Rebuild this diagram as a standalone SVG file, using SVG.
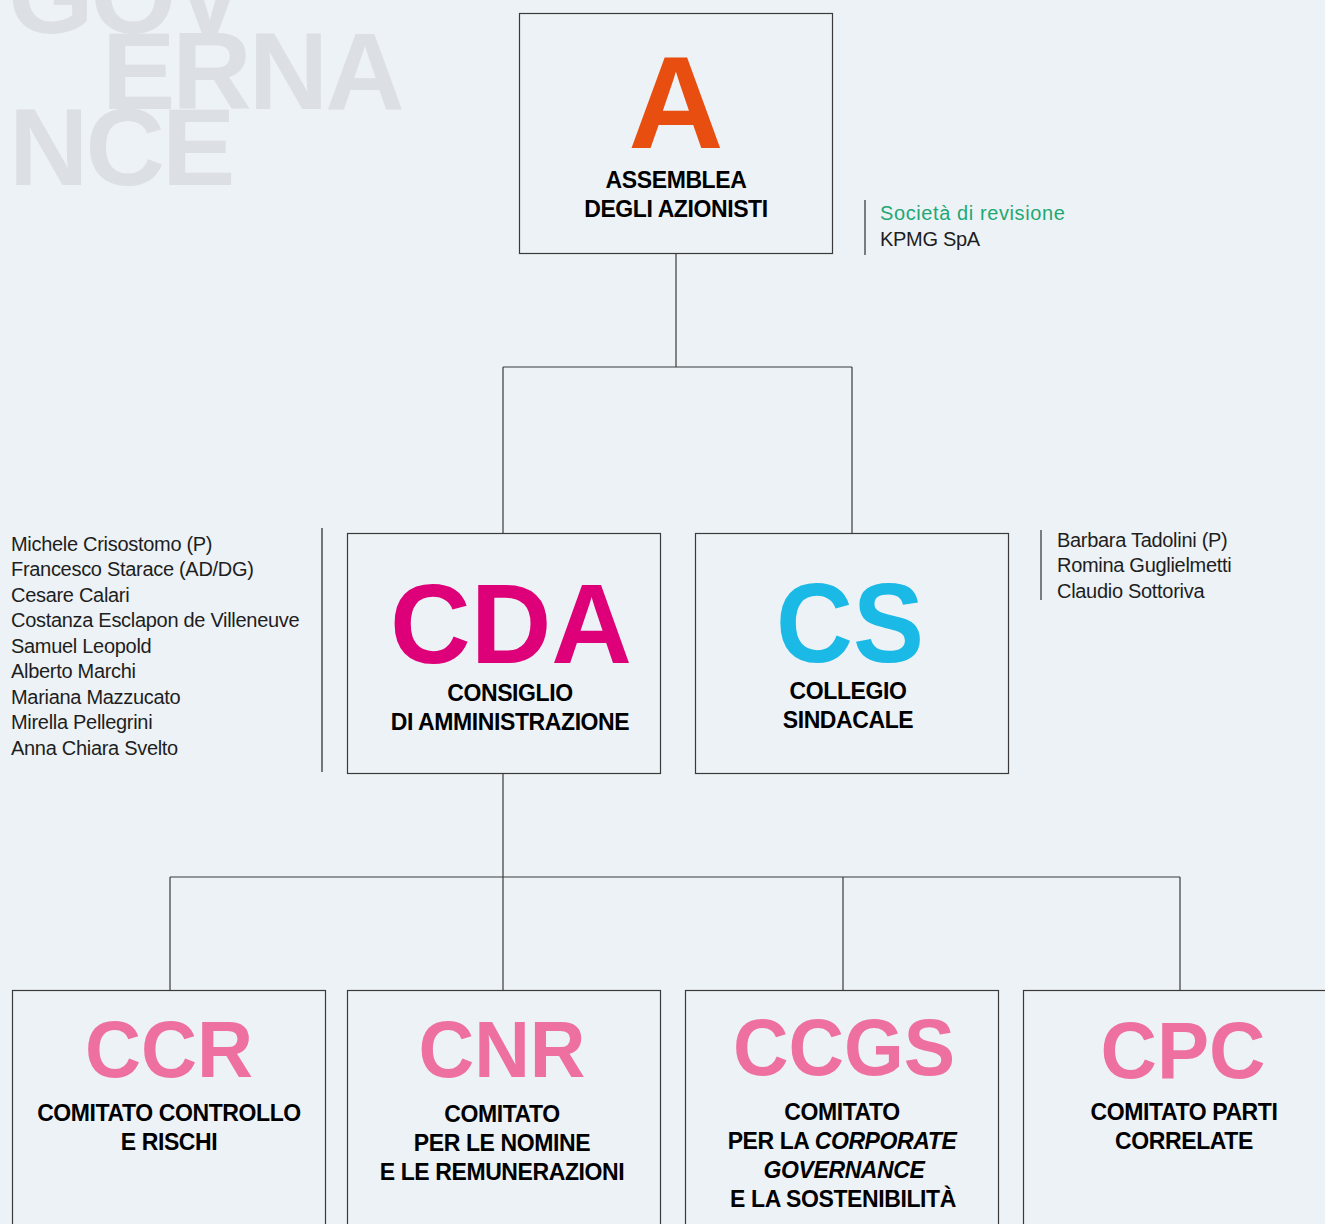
<svg xmlns="http://www.w3.org/2000/svg" width="1325" height="1224" viewBox="0 0 1325 1224">
<style>
.wm{font-family:"Liberation Sans",Arial,sans-serif;font-weight:700;font-size:110px;fill:#dcdfe4;letter-spacing:-3px}
.box{fill:#edf2f6;stroke:#3a3a3a;stroke-width:1.2}
.big{font-family:"Liberation Sans",Arial,sans-serif;font-weight:700;text-anchor:middle}
.lbl{font-family:"Liberation Sans",Arial,sans-serif;font-weight:700;font-size:23px;fill:#000;text-anchor:middle;letter-spacing:-0.4px}
.nm{font-family:"Liberation Sans",Arial,sans-serif;font-size:20px;fill:#1e1e1e;letter-spacing:-0.3px}
.conn{fill:none;stroke:#3a3a3a;stroke-width:1.2}
.side{stroke:#555;stroke-width:1.5}
</style>
<rect width="1325" height="1224" fill="#edf2f6"/>
<g id="watermark">
<text class="wm" x="8" y="33">GOV</text>
<text class="wm" x="102" y="109">ERNA</text>
<text class="wm" x="9" y="185">NCE</text>
</g>
<g id="connectors">
<path class="conn" d="M676 253V367M503 367H852M503 367V533M852 367V533"/>
<path class="conn" d="M503 773V877M170 877H1180M170 877V990M503 877V990M843 877V990M1180 877V990"/>
</g>
<g id="node-A">
<rect class="box" x="519.5" y="13.5" width="313" height="240"/>
<text class="big" x="676" y="148" font-size="132" fill="#e84e0f">A</text>
<text class="lbl" x="676" y="188">ASSEMBLEA</text>
<text class="lbl" x="676" y="217">DEGLI AZIONISTI</text>
</g>
<g id="revisione">
<line class="side" x1="865" y1="200" x2="865" y2="255"/>
<text class="nm" x="880" y="220" style="fill:#1fa874;letter-spacing:0.6px">Società di revisione</text>
<text class="nm" x="880" y="246">KPMG SpA</text>
</g>
<g id="node-CDA">
<rect class="box" x="347.5" y="533.5" width="313" height="240"/>
<text class="big" x="511" y="663" font-size="113" fill="#dd0078" textLength="242" lengthAdjust="spacingAndGlyphs">CDA</text>
<text class="lbl" x="510" y="701">CONSIGLIO</text>
<text class="lbl" x="510" y="730">DI AMMINISTRAZIONE</text>
</g>
<g id="cda-members">
<line x1="322" y1="528" x2="322" y2="772" stroke="#222" stroke-width="1.2"/>
<text class="nm" x="11" y="551">Michele Crisostomo (P)</text>
<text class="nm" x="11" y="576">Francesco Starace (AD/DG)</text>
<text class="nm" x="11" y="602">Cesare Calari</text>
<text class="nm" x="11" y="627">Costanza Esclapon de Villeneuve</text>
<text class="nm" x="11" y="653">Samuel Leopold</text>
<text class="nm" x="11" y="678">Alberto Marchi</text>
<text class="nm" x="11" y="704">Mariana Mazzucato</text>
<text class="nm" x="11" y="729">Mirella Pellegrini</text>
<text class="nm" x="11" y="755">Anna Chiara Svelto</text>
</g>
<g id="node-CS">
<rect class="box" x="695.5" y="533.5" width="313" height="240"/>
<text class="big" x="850" y="662" font-size="113" fill="#1ab9e6" textLength="148" lengthAdjust="spacingAndGlyphs">CS</text>
<text class="lbl" x="848" y="699">COLLEGIO</text>
<text class="lbl" x="848" y="728">SINDACALE</text>
</g>
<g id="cs-members">
<line class="side" x1="1041" y1="530" x2="1041" y2="600"/>
<text class="nm" x="1057" y="547">Barbara Tadolini (P)</text>
<text class="nm" x="1057" y="572">Romina Guglielmetti</text>
<text class="nm" x="1057" y="598">Claudio Sottoriva</text>
</g>
<g id="node-CCR">
<rect class="box" x="12.5" y="990.5" width="313" height="250"/>
<text class="big" x="169" y="1077" font-size="80" fill="#ee70a1" textLength="168" lengthAdjust="spacingAndGlyphs">CCR</text>
<text class="lbl" x="169" y="1121">COMITATO CONTROLLO</text>
<text class="lbl" x="169" y="1150">E RISCHI</text>
</g>
<g id="node-CNR">
<rect class="box" x="347.5" y="990.5" width="313" height="250"/>
<text class="big" x="502" y="1077" font-size="80" fill="#ee70a1" textLength="167" lengthAdjust="spacingAndGlyphs">CNR</text>
<text class="lbl" x="502" y="1122">COMITATO</text>
<text class="lbl" x="502" y="1151">PER LE NOMINE</text>
<text class="lbl" x="502" y="1180">E LE REMUNERAZIONI</text>
</g>
<g id="node-CCGS">
<rect class="box" x="685.5" y="990.5" width="313" height="250"/>
<text class="big" x="844" y="1075" font-size="80" fill="#ee70a1" textLength="222" lengthAdjust="spacingAndGlyphs">CCGS</text>
<text class="lbl" x="842" y="1120">COMITATO</text>
<text class="lbl" x="842" y="1149">PER LA <tspan font-style="italic">CORPORATE</tspan></text>
<text class="lbl" x="844" y="1178" font-style="italic">GOVERNANCE</text>
<text class="lbl" x="843" y="1207">E LA SOSTENIBILITÀ</text>
</g>
<g id="node-CPC">
<rect class="box" x="1023.5" y="990.5" width="313" height="250"/>
<text class="big" x="1183" y="1078" font-size="80" fill="#ee70a1" textLength="165" lengthAdjust="spacingAndGlyphs">CPC</text>
<text class="lbl" x="1184" y="1120">COMITATO PARTI</text>
<text class="lbl" x="1184" y="1149">CORRELATE</text>
</g>
</svg>
